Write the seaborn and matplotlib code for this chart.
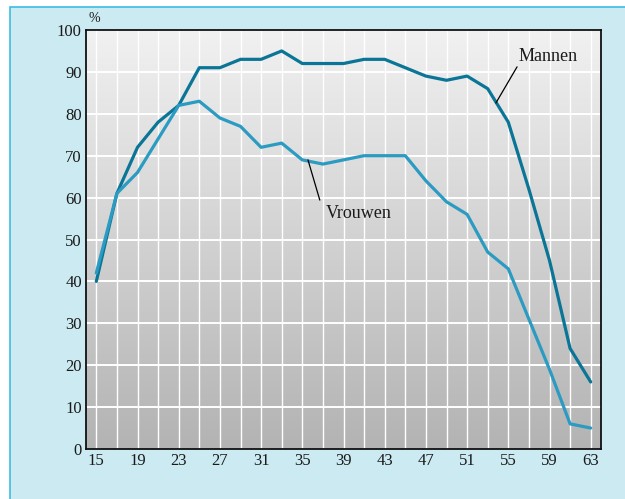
import matplotlib
matplotlib.use("Agg")
import matplotlib.pyplot as plt
from matplotlib.patches import Rectangle
import numpy as np
import pandas as pd
import seaborn as sns

# Data
leeftijd = list(range(15, 65, 2))
mannen = [40, 61, 72, 78, 82, 91, 91, 93, 93, 95, 92, 92, 92,
          93, 93, 91, 89, 88, 89, 86, 78, 62, 45, 24, 16]
vrouwen = [42, 61, 66, 74, 82, 83, 79, 77, 72, 73, 69, 68, 69,
           70, 70, 70, 64, 59, 56, 47, 43, 31, 19, 6, 5]
x_ticks = list(range(15, 64, 4))
y_ticks = list(range(0, 101, 10))

df = pd.DataFrame({"leeftijd": leeftijd, "Mannen": mannen, "Vrouwen": vrouwen})
df_long = df.melt(id_vars="leeftijd", var_name="groep", value_name="pct")

sns.set_theme(style="white")
plt.rcParams["font.family"] = ["Liberation Serif", "DejaVu Serif"]

fig = plt.figure(figsize=(6.25, 4.99), dpi=100, facecolor="white")
# light blue panel with cyan border on left/top
fig.patches.append(Rectangle((10 / 625, -0.05), 1.2, 1 - 7 / 499 + 0.05,
                             transform=fig.transFigure, facecolor="#cceaf2",
                             edgecolor="#3dbde0", linewidth=1.2, zorder=-10))

ax = fig.add_axes([86 / 625, 1 - 449 / 499, 515 / 625, 419 / 499])

# grey gradient background
grad = np.linspace(0, 1, 256).reshape(-1, 1)
ax.imshow(grad, extent=[14, 64, 0, 100], aspect="auto", origin="upper",
          cmap=matplotlib.colors.LinearSegmentedColormap.from_list(
              "g", ["#f1f1f1", "#b3b3b3"]), zorder=0)

# white grid
for xv in leeftijd:
    ax.axvline(xv, color="white", lw=1.0, zorder=1)
for yv in y_ticks[1:]:
    ax.axhline(yv, color="white", lw=1.4, zorder=1)

sns.lineplot(data=df_long, x="leeftijd", y="pct", hue="groep",
             palette={"Mannen": "#0a7596", "Vrouwen": "#2b9bc2"},
             linewidth=2.3, legend=False, ax=ax, zorder=3)

ax.set_xlim(14, 64)
ax.set_ylim(0, 100)
ax.set_xticks(x_ticks)
ax.set_yticks(y_ticks)
ax.tick_params(axis="both", length=0, labelsize=12, colors="#1a1a1a", pad=3)
ax.set_xlabel("")
ax.set_ylabel("")
for s in ax.spines.values():
    s.set_visible(True)
    s.set_color("#111111")
    s.set_linewidth(1.3)

ax.text(14.2, 101.2, "%", fontsize=10, ha="left", va="bottom", color="#1a1a1a")

# labels with leader lines
ax.plot([55.85, 53.8], [91.2, 82.6], color="black", lw=0.9, zorder=4)
ax.text(56.0, 93.6, "Mannen", fontsize=13, ha="left", va="center", color="#1a1a1a")
ax.plot([35.55, 36.7], [69, 59.4], color="black", lw=0.9, zorder=4)
ax.text(37.3, 56.3, "Vrouwen", fontsize=13, ha="left", va="center", color="#1a1a1a")

fig.savefig("out.png", dpi=100, facecolor=fig.get_facecolor())
